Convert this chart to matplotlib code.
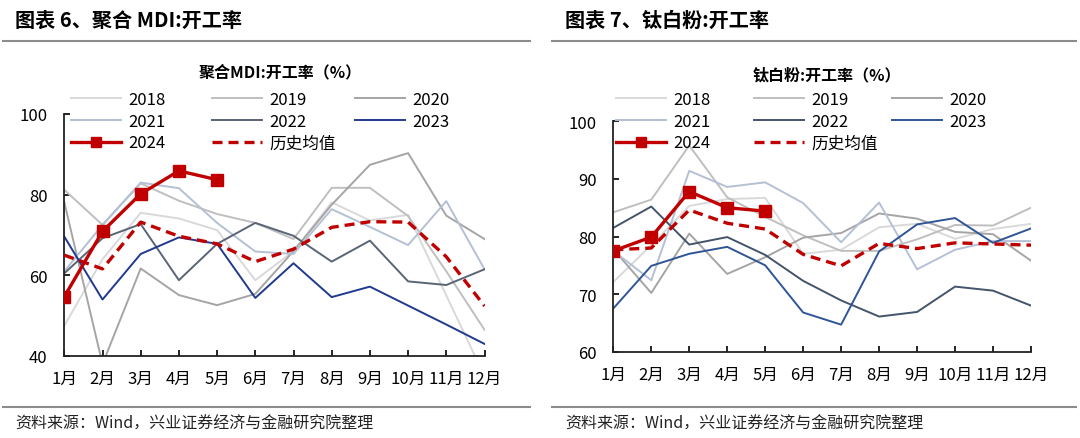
import matplotlib
matplotlib.use('Agg')
import matplotlib.pyplot as plt
from matplotlib.lines import Line2D

plt.rcParams['font.family'] = ['Noto Sans CJK SC', 'DejaVu Sans']

months = ['1月', '2月', '3月', '4月', '5月', '6月', '7月', '8月', '9月', '10月', '11月', '12月']
years = ['2018', '2019', '2020', '2021', '2022', '2023', '2024']
avg_label = '历史均值'

# 聚合MDI 开工率 (%)
mdi_2018 = [47.5, 64.0, 75.5, 74.1, 71.2, 58.8, 66.0, 78.1, 73.6, 75.0, 55.0, 35.0]
mdi_2019 = [81.2, 72.5, 82.8, 78.5, 75.2, 73.0, 69.0, 81.7, 81.7, 74.7, 61.0, 46.5]
mdi_2020 = [78.1, 38.0, 61.7, 55.1, 52.6, 55.4, 66.0, 77.5, 87.4, 90.3, 74.8, 69.0]
mdi_2021 = [61.0, 72.5, 83.0, 81.6, 73.0, 65.9, 65.3, 76.4, 72.0, 67.5, 78.4, 61.5]
mdi_2022 = [60.5, 69.2, 72.7, 58.8, 67.8, 73.0, 69.8, 63.4, 68.6, 58.5, 57.6, 61.5]
mdi_2023 = [69.6, 54.0, 65.3, 69.4, 67.8, 54.4, 63.0, 54.6, 57.2, 52.5, 47.8, 43.0]
mdi_2024 = [54.7, 70.9, 80.2, 85.9, 83.7]
mdi_avg = [65.0, 61.6, 73.2, 69.7, 67.8, 63.4, 66.5, 71.9, 73.3, 73.2, 64.6, 52.4]

# 钛白粉 开工率 (%)
tio2_2018 = [72.1, 78.5, 85.3, 86.5, 86.7, 77.0, 77.7, 81.6, 82.2, 79.6, 81.3, 82.2]
tio2_2019 = [84.2, 86.4, 95.8, 86.8, 83.4, 80.2, 77.5, 77.5, 79.5, 82.0, 81.9, 85.0]
tio2_2020 = [77.8, 70.2, 80.5, 73.5, 76.4, 79.8, 80.6, 84.0, 83.1, 80.8, 80.4, 75.8]
tio2_2021 = [77.5, 72.4, 91.4, 88.6, 89.4, 85.8, 79.0, 85.9, 74.3, 77.7, 79.2, 79.2]
tio2_2022 = [81.5, 85.2, 78.6, 79.9, 76.8, 72.3, 68.9, 66.1, 66.9, 71.3, 70.6, 68.0]
tio2_2023 = [67.5, 74.9, 77.0, 78.2, 75.0, 66.8, 64.7, 77.4, 82.1, 83.2, 78.9, 81.4]
tio2_2024 = [77.5, 79.9, 87.8, 85.0, 84.4]
tio2_avg = [77.7, 78.0, 84.6, 82.3, 81.3, 76.9, 74.9, 78.8, 77.9, 78.9, 78.7, 78.5]

W, H = 1080, 439


def fx(px):
    return px / W


def fy(py):
    return 1 - py / H


def draw_panel(ax, series, avg, colors, ylim, yticks, title, title_xy, legend_x):
    for (name, vals), c in zip(series, colors):
        if name == '2024':
            ax.plot(range(len(vals)), vals, color=c, lw=2.4, marker='s',
                    markersize=8, label=name, zorder=5)
        else:
            ax.plot(range(len(vals)), vals, color=c, lw=1.4, label=name)
    ax.plot(range(len(avg)), avg, color='#c00000', lw=2.4, ls=(0, (3, 1.8)),
            label=avg_label, zorder=4)
    ax.set_xlim(0, 11)
    ax.set_ylim(*ylim)
    ax.set_yticks(yticks)
    ax.set_xticks(range(12))
    ax.set_xticklabels(months)
    for s in ['top', 'right']:
        ax.spines[s].set_visible(False)
    for s in ['left', 'bottom']:
        ax.spines[s].set_color('#222222')
        ax.spines[s].set_linewidth(1.3)
    ax.tick_params(axis='y', direction='in', length=4, width=1.2, labelsize=12, pad=12)
    ax.tick_params(axis='x', direction='in', length=4, width=1.2, labelsize=12, pad=10)
    fig.text(fx(title_xy[0]), fy(title_xy[1]), title, ha='center', va='center',
             fontsize=11.5, fontweight='bold')
    handles, labels = ax.get_legend_handles_labels()
    lookup = dict(zip(labels, handles))
    cols = [['2018', '2021', '2024'], ['2019', '2022', avg_label], ['2020', '2023']]
    for cx, col in zip(legend_x, cols):
        leg = fig.legend([lookup[k] for k in col], col, loc='upper left',
                         bbox_to_anchor=(fx(cx), fy(92)), bbox_transform=fig.transFigure,
                         frameon=False, borderpad=0, borderaxespad=0, handlelength=3.0,
                         handletextpad=0.45, labelspacing=0.28, fontsize=12)
        for h in leg.legend_handles:
            h.set_markersize(6.5)


fig = plt.figure(figsize=(10.8, 4.39), dpi=100)

ax1 = fig.add_axes([fx(64.3), fy(357), fx(484.5 - 64.3), (357 - 115) / H])
mdi_series = list(zip(years, [mdi_2018, mdi_2019, mdi_2020, mdi_2021, mdi_2022, mdi_2023, mdi_2024]))
mdi_colors = ['#d9d9d9', '#bfbfbf', '#a5a5a5', '#b4c0d4', '#5a6474', '#1f3a8f', '#c00000']
draw_panel(ax1, mdi_series, mdi_avg, mdi_colors, (40, 100), [40, 60, 80, 100],
           '聚合MDI:开工率（%）', (280, 72), [70.6, 211.8, 354.7])

ax2 = fig.add_axes([fx(613.3), fy(352.7), fx(1031 - 613.3), (352.7 - 122.3) / H])
tio2_series = list(zip(years, [tio2_2018, tio2_2019, tio2_2020, tio2_2021, tio2_2022, tio2_2023, tio2_2024]))
tio2_colors = ['#d9d9d9', '#bfbfbf', '#a5a5a5', '#b4c0d4', '#44546a', '#2f5597', '#c00000']
draw_panel(ax2, tio2_series, tio2_avg, tio2_colors, (60, 100), [60, 70, 80, 90, 100],
           '钛白粉:开工率（%）', (827, 75), [616, 754, 892])

# headers, separators and source notes
fig.text(fx(15), fy(20), '图表 6、聚合 MDI:开工率', ha='left', va='center',
         fontsize=14.5, fontweight='bold')
fig.text(fx(565), fy(20), '图表 7、钛白粉:开工率', ha='left', va='center',
         fontsize=14.5, fontweight='bold')
for x0, x1 in [(3, 530), (552, 1076)]:
    fig.add_artist(Line2D([fx(x0), fx(x1)], [fy(42)] * 2, color='#8c8c8c', lw=1.5))
    fig.add_artist(Line2D([fx(x0), fx(x1)], [fy(408)] * 2, color='#8c8c8c', lw=1.5))
fig.text(fx(15), fy(424), '资料来源：Wind，兴业证券经济与金融研究院整理', ha='left',
         va='center', fontsize=11.5, color='#222222')
fig.text(fx(565), fy(424), '资料来源：Wind，兴业证券经济与金融研究院整理', ha='left',
         va='center', fontsize=11.5, color='#222222')

fig.savefig('out.png', dpi=100)
